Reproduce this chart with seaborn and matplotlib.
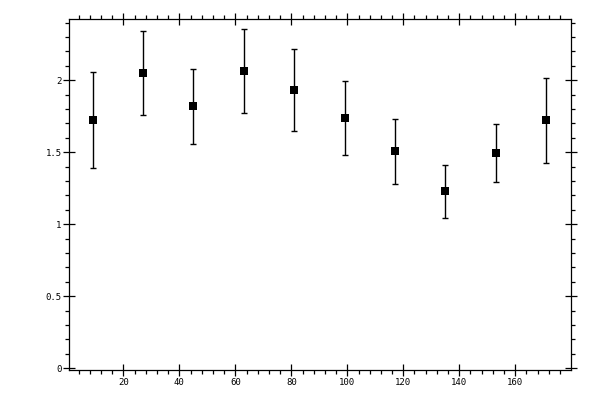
import numpy as np
import pandas as pd
import seaborn as sns
from matplotlib import pyplot as plt
from matplotlib.ticker import MultipleLocator, FormatStrFormatter

# values
xs = [9, 27, 45, 63, 81, 99, 117, 135, 153, 171]
means = [1.722, 2.049, 1.819, 2.062, 1.931, 1.736, 1.507, 1.229, 1.493, 1.722]
errs = [0.333, 0.292, 0.261, 0.292, 0.285, 0.257, 0.226, 0.183, 0.201, 0.295]

df = pd.DataFrame({'x': xs, 'y': means, 'err': errs})

sns.set_style('ticks')
plt.rcParams['font.family'] = ['DejaVu Sans Mono']

f = plt.figure(figsize=(6, 4), dpi=100)
a = f.add_axes([0.1155, 0.075, 0.8357, 0.877])

a.errorbar(df['x'], df['y'], yerr=df['err'], ls='', color='black',
           elinewidth=1.0, capsize=1.9, capthick=1.0, zorder=2)
sns.scatterplot(ax=a, x='x', y='y', data=df, marker='s', s=28,
                color='black', edgecolor='black', linewidth=0, zorder=3,
                legend=False)

a.set_xlim(0.7, 179.8)
a.set_ylim(-0.012, 2.424)
a.set_xlabel('')
a.set_ylabel('')

a.xaxis.set_major_locator(MultipleLocator(20))
a.xaxis.set_minor_locator(MultipleLocator(4))
a.yaxis.set_major_locator(MultipleLocator(0.5))
a.yaxis.set_minor_locator(MultipleLocator(0.1))
a.yaxis.set_major_formatter(FormatStrFormatter('%g'))

a.xaxis.set_major_formatter(plt.FuncFormatter(lambda v, p: '' if v <= 0 else '%g' % v))

for s in a.spines.values():
    s.set_visible(True)
    s.set_linewidth(0.9)
    s.set_color('black')

a.tick_params(which='major', direction='inout', length=8, width=0.9,
              top=True, right=True, labelsize=6.5, pad=1.5, colors='black')
a.tick_params(which='minor', direction='out', length=3, width=0.9,
              top=True, right=True, colors='black')

f.savefig('out.png', dpi=100)
